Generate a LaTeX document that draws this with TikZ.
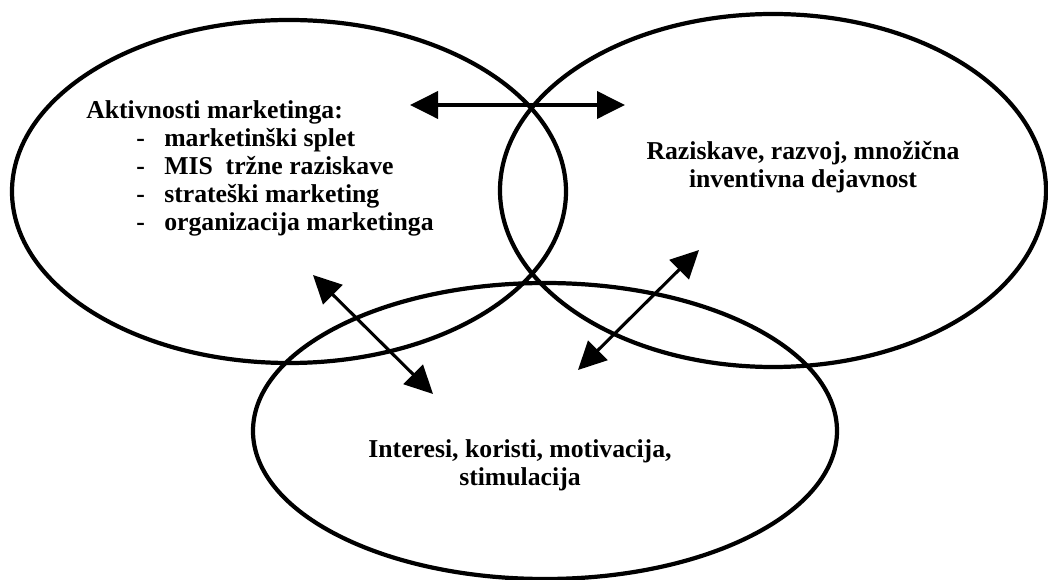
\documentclass[tikz,border=0pt]{standalone}
\usepackage{fontspec}
\setmainfont{Liberation Serif}
\usetikzlibrary{arrows.meta,shapes.geometric}

\begin{document}
\begin{tikzpicture}[
  oval/.style={draw, ellipse, line width=3pt, inner sep=0pt},
  lbl/.style={font=\bfseries\fontsize{18.3}{19.9}\selectfont, inner sep=0pt},
  dbl/.style={{Triangle[length=0.7cm,width=0.68cm]}-{Triangle[length=0.7cm,width=0.68cm]}, line width=2.2pt}]
  \useasboundingbox (0,0) rectangle (26.2,-14.5);
  % ovals
  \node[oval, minimum width=13.85cm, minimum height=8.575cm] (mkt) at (7.225,-4.7875) {};
  \node[oval, minimum width=13.65cm, minimum height=8.825cm] (raz) at (19.325,-4.7625) {};
  \node[oval, minimum width=14.6cm, minimum height=7.4cm] (int) at (13.625,-10.775) {};
  % texts
  \node[lbl, anchor=west, align=left] (mkttxt) at (2.15,-4.2) {Aktivnosti marketinga:\\
    \hspace*{1.25cm}\makebox[0.7cm][l]{-}marketinški splet\\
    \hspace*{1.25cm}\makebox[0.7cm][l]{-}MIS\enspace tržne raziskave\\
    \hspace*{1.25cm}\makebox[0.7cm][l]{-}strateški marketing\\
    \hspace*{1.25cm}\makebox[0.7cm][l]{-}organizacija marketinga};
  \node[lbl, align=center] (raztxt) at (20.075,-4.175) {Raziskave, razvoj, množična\\inventivna dejavnost};
  \node[lbl, align=center] (inttxt) at (13.0,-11.625) {Interesi, koristi, motivacija,\\stimulacija};
  % arrows
  \coordinate (t1) at (10.25,-2.625);
  \coordinate (t2) at (15.625,-2.625);
  \coordinate (l1) at (7.825,-6.875);
  \coordinate (l2) at (10.825,-9.85);
  \coordinate (r1) at (17.475,-6.25);
  \coordinate (r2) at (14.45,-9.25);
  \draw[dbl] (t1) -- (t2);
  \draw[dbl] (l1) -- (l2);
  \draw[dbl] (r1) -- (r2);
\end{tikzpicture}
\end{document}
